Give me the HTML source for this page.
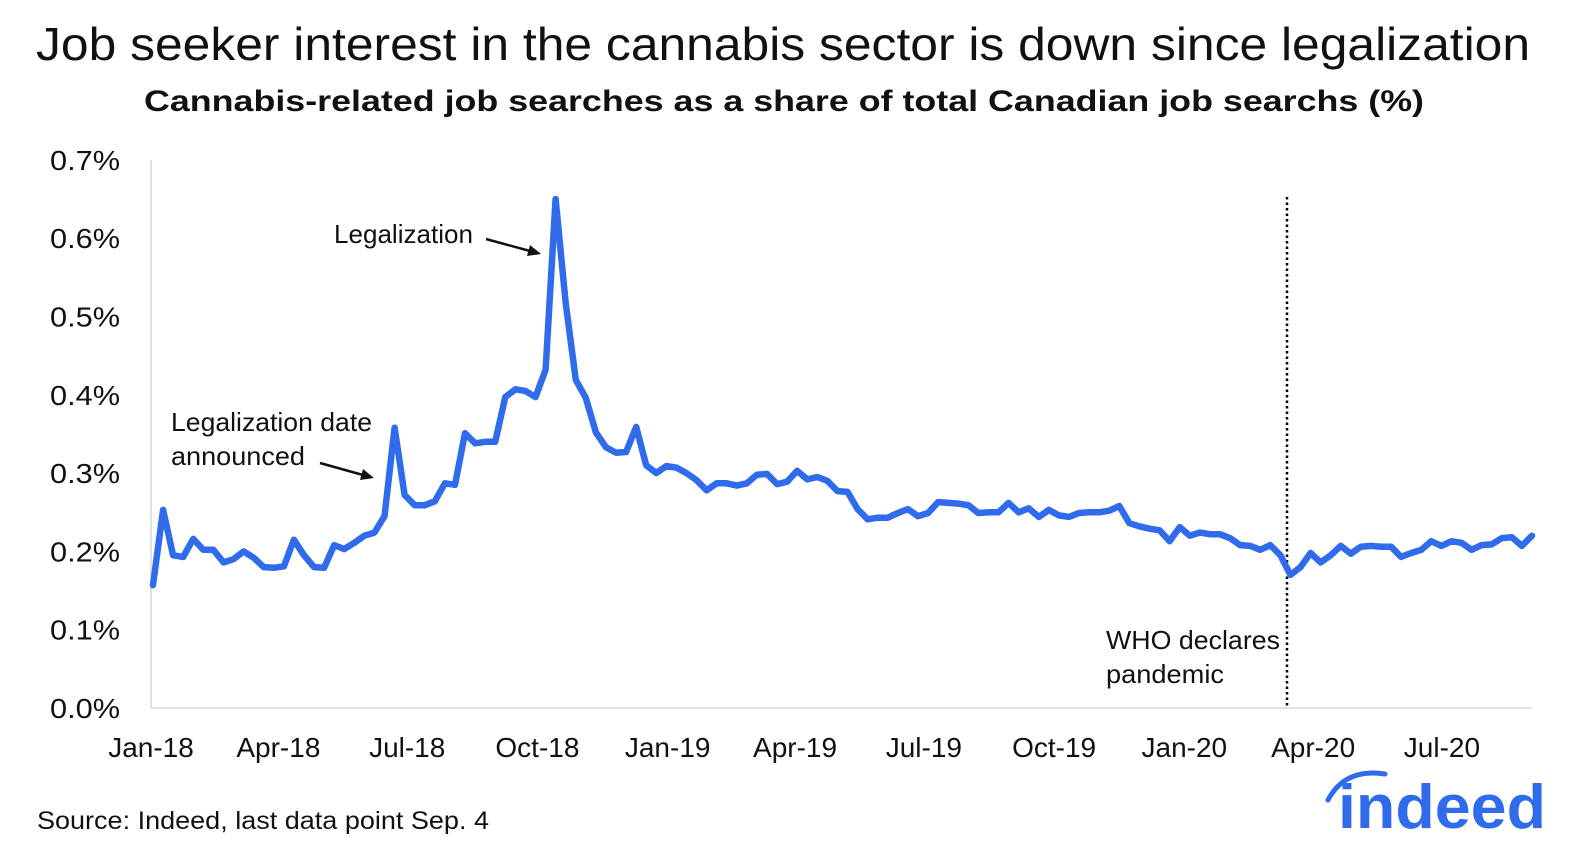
<!DOCTYPE html>
<html><head><meta charset="utf-8"><style>
html,body{margin:0;padding:0;background:#fff;}
svg{display:block;font-family:"Liberation Sans",Arial,sans-serif;}
</style></head><body>
<svg id="chart" width="1584" height="864" viewBox="0 0 1584 864" xmlns="http://www.w3.org/2000/svg">
<text x="36" y="60" font-size="46" fill="#111" textLength="1494" lengthAdjust="spacingAndGlyphs">Job seeker interest in the cannabis sector is down since legalization</text>
<text x="144" y="111" font-size="30" font-weight="bold" fill="#111" textLength="1280" lengthAdjust="spacingAndGlyphs">Cannabis-related job searches as a share of total Canadian job searchs (%)</text>
<g id="yaxis"></g>
<g id="xaxis"></g>
<line x1="151" y1="160" x2="151" y2="708" stroke="#d9d9d9" stroke-width="1.5"/>
<line x1="151" y1="708" x2="1532" y2="708" stroke="#d9d9d9" stroke-width="1.5"/>
<line x1="1287" y1="197" x2="1287" y2="708" stroke="#000" stroke-width="2.5" stroke-dasharray="2.5,3"/>
<path id="series" fill="none" stroke="#2f6bea" stroke-width="6.5" stroke-linejoin="round" stroke-linecap="round"/>
<text x="334" y="243" font-size="26" fill="#111" textLength="139" lengthAdjust="spacingAndGlyphs">Legalization</text>
<line x1="486" y1="239" x2="530" y2="251" stroke="#111" stroke-width="2.5"/>
<polygon points="541,254 527,256 530,245" fill="#111"/>
<text font-size="26" fill="#111"><tspan x="171" y="431" textLength="201" lengthAdjust="spacingAndGlyphs">Legalization date</tspan><tspan x="171" y="465" textLength="134" lengthAdjust="spacingAndGlyphs">announced</tspan></text>
<line x1="320" y1="463" x2="363" y2="475" stroke="#111" stroke-width="2.5"/>
<polygon points="374,478 360,480 363,469" fill="#111"/>
<text font-size="26" fill="#111"><tspan x="1106" y="649" textLength="174" lengthAdjust="spacingAndGlyphs">WHO declares</tspan><tspan x="1106" y="683" textLength="118" lengthAdjust="spacingAndGlyphs">pandemic</tspan></text>
<text x="37" y="829" font-size="25" fill="#111" textLength="452" lengthAdjust="spacingAndGlyphs">Source: Indeed, last data point Sep. 4</text>
<g>
<path d="M1328,800 Q1345,768 1385,774" fill="none" stroke="#2f6bea" stroke-width="5" stroke-linecap="round"/>
<text x="1338" y="828" font-size="62" font-weight="bold" fill="#2f6bea" textLength="208" lengthAdjust="spacingAndGlyphs">indeed</text>
</g>
</svg>
<script>
const yTicks=[0,0.1,0.2,0.3,0.4,0.5,0.6,0.7];
const yTickLabels=["0.0%","0.1%","0.2%","0.3%","0.4%","0.5%","0.6%","0.7%"];
const xTickLabels=["Jan-18","Apr-18","Jul-18","Oct-18","Jan-19","Apr-19","Jul-19","Oct-19","Jan-20","Apr-20","Jul-20"];
const xTickDays=[0,90,181,273,365,455,546,638,730,821,912];
const values=[0.157,0.253,0.195,0.193,0.216,0.202,0.202,0.186,0.190,0.200,0.192,0.180,0.179,0.181,0.215,0.195,0.180,0.179,0.208,0.203,0.211,0.220,0.224,0.245,0.358,0.272,0.259,0.259,0.264,0.287,0.285,0.351,0.338,0.340,0.340,0.397,0.407,0.405,0.397,0.432,0.650,0.517,0.419,0.396,0.352,0.333,0.326,
0.327,0.359,0.310,0.300,0.309,0.307,0.300,0.291,0.278,0.287,0.287,0.284,0.287,0.298,0.299,0.286,0.289,0.303,0.292,0.295,0.290,0.277,0.276,0.254,0.241,0.243,0.243,0.249,0.254,0.245,0.249,0.263,0.262,0.261,0.259,0.249,0.250,0.250,0.262,0.250,0.255,0.244,0.253,0.246,0.244,0.249,
0.250,0.250,0.252,0.258,0.236,0.232,0.229,0.227,0.213,0.231,0.220,0.224,0.222,0.222,0.217,0.208,0.207,0.202,0.208,0.195,0.170,0.180,0.198,0.186,0.195,0.207,0.197,0.206,0.207,0.206,0.206,0.193,0.198,0.202,0.213,0.207,0.213,0.211,0.202,0.208,0.209,0.217,0.218,0.207,0.220];
const NS="http://www.w3.org/2000/svg";
const y=v=>708-v*783;
const xi=i=>153+i*(1532-153)/(values.length-1);
const xd=d=>151+d*1.4155;
const ya=document.getElementById('yaxis');
yTicks.forEach((t,k)=>{const e=document.createElementNS(NS,'text');


e.setAttribute('x',120);e.setAttribute('y',y(t)+10);e.setAttribute('text-anchor','end');e.setAttribute('font-size','28');e.setAttribute('fill','#111');e.setAttribute('textLength','70');e.setAttribute('lengthAdjust','spacingAndGlyphs');e.textContent=yTickLabels[k];ya.appendChild(e);});
const xa=document.getElementById('xaxis');
xTickLabels.forEach((l,k)=>{const e=document.createElementNS(NS,'text');


e.setAttribute('x',xd(xTickDays[k]));e.setAttribute('y',757);e.setAttribute('text-anchor','middle');e.setAttribute('font-size','28');e.setAttribute('fill','#111');e.textContent=l;xa.appendChild(e);});
document.getElementById('series').setAttribute('d',values.map((v,i)=>(i?'L':'M')+xi(i).toFixed(1)+','+y(v).toFixed(1)).join(''));
</script>
</body></html>
